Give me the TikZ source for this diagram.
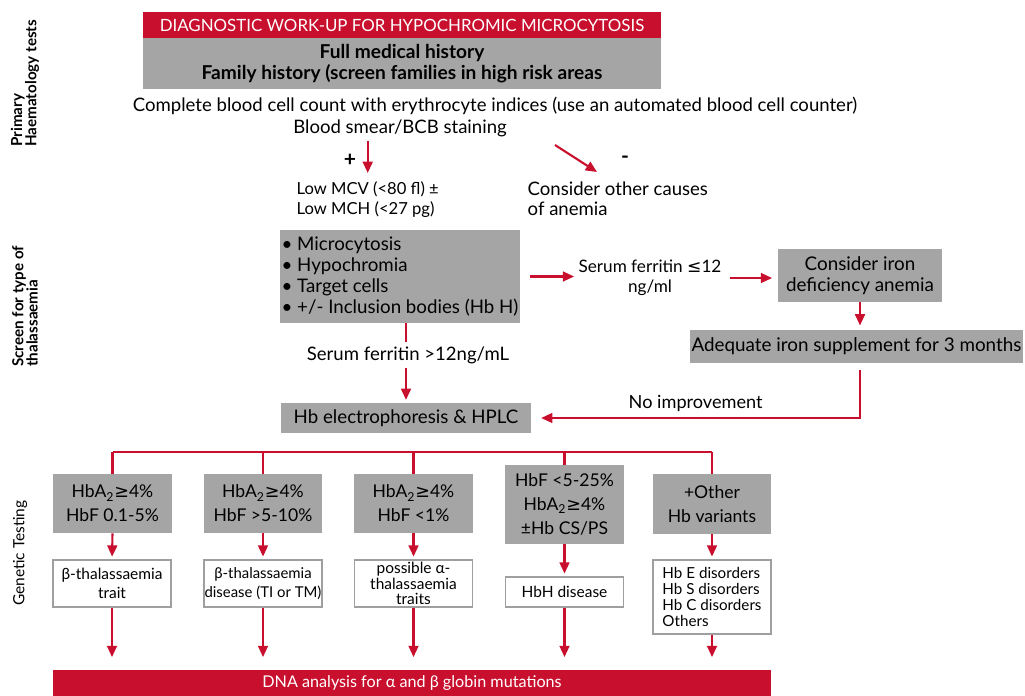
\documentclass[tikz,border=0pt]{standalone}
\usepackage{fontspec}
\setmainfont{Lato}
\newfontfamily\symfont{DejaVu Sans}
\usetikzlibrary{arrows.meta,calc}
\definecolor{dred}{RGB}{200,16,46}
\definecolor{boxgray}{RGB}{165,165,165}
\begin{document}
\begin{tikzpicture}[x=0.025cm,y=-0.025cm,
  ln/.style={draw=dred,line width=1.5pt},
  arr/.style={ln,-{Triangle[length=8pt,width=7pt]}},
  gbox/.style={fill=boxgray,inner sep=0pt,align=center},
  wbox/.style={draw=gray!75,line width=0.8pt,fill=white,inner sep=0pt,align=center,font=\fontsize{11}{12}\selectfont},
  rowbox/.style={gbox,minimum width=2.95cm,minimum height=1.475cm,font=\fontsize{12.5}{17}\selectfont},
  txt/.style={align=center,inner sep=1pt,font=\fontsize{13.2}{14.5}\selectfont},
  side/.style={rotate=90,anchor=west,align=left,inner sep=0pt}]
\useasboundingbox(0,0)rectangle(1025,696);
% side labels
\node[side,font=\fontsize{10.8}{10}\selectfont\bfseries](s1)at(25,147){Primary\\Haematology tests};
\node[side,font=\fontsize{10.8}{10}\selectfont\bfseries](s2)at(25,367){Screen for type of\\thalassaemia};
\node[side,font=\fontsize{11}{12}\selectfont](s3)at(20,606){Genetic Testing};
% primary tests
\node[fill=dred,text=white,minimum width=12.95cm,minimum height=0.65cm,inner sep=0pt,font=\fontsize{12}{13}\selectfont](title)at(402,25){DIAGNOSTIC WORK-UP FOR HYPOCHROMIC MICROCYTOSIS};
\node[gbox,minimum width=12.95cm,minimum height=1.275cm,font=\fontsize{13.6}{14.5}\selectfont\bfseries](hist)at(402,63.5){Full medical history\\Family history (screen families in high risk areas};
\node[txt](cbc)at(495,106){Complete blood cell count with erythrocyte indices (use an automated blood cell counter)};
\node[txt](smear)at(400,128){Blood smear/BCB staining};
\node[txt,font=\fontsize{15}{15}\selectfont\bfseries](plus)at(350,160){+};
\node[txt,font=\fontsize{15}{15}\selectfont\bfseries](minus)at(625,160){-};
\node[txt,align=left,anchor=north west,font=\fontsize{11.8}{14}\selectfont](lowm)at(295,180){Low MCV (<80 fl) ±\\Low MCH (<27 pg)};
\node[txt,align=left,anchor=north west](other)at(526,180){Consider other causes\\of anemia};
\coordinate(mstart)at(555,145);
\coordinate(mend)at(597,172);
\draw[arr,shorten <=2pt,shorten >=5pt](smear.south -| lowm.north)--(lowm.north);
\draw[arr](mstart)--(mend);
% screen
\node[gbox,minimum width=6cm,minimum height=2.325cm,align=left,font=\fontsize{13.3}{15}\selectfont](bul)at(400,276.5){• Microcytosis\\• Hypochromia\\• Target cells\\• +/- Inclusion bodies (Hb H)};
\node[txt,font=\fontsize{12.2}{14.5}\selectfont](ferr)at(650,278){Serum ferritin {\symfont ≤}12\\ng/ml};
\node[gbox,minimum width=4.1cm,minimum height=1.325cm,font=\fontsize{13.4}{15}\selectfont](iron)at(860,275.5){Consider iron\\deficiency anemia};
\node[gbox,minimum width=8.325cm,minimum height=0.825cm,font=\fontsize{13.4}{15}\selectfont](supp)at(856.5,346.5){Adequate iron supplement for 3 months};
\node[txt](sfg)at(408,355){Serum ferritin >12ng/mL};
\node[gbox,minimum width=6.25cm,minimum height=0.75cm,font=\fontsize{13.3}{15}\selectfont](hplc)at(406,418){Hb electrophoresis \& HPLC};
\draw[arr,shorten <=7pt,shorten >=2pt](bul.east)--(bul.east -| ferr.west);
\draw[arr,shorten <=5pt,shorten >=4pt](ferr.east)--(ferr.east -| iron.west);
\draw[arr,shorten >=3pt](iron.south)--(iron.south |- supp.north);
\draw[arr,shorten <=5pt,shorten >=7pt](supp.south -| iron.south)|-(hplc.east)node[pos=0.75,above=3pt,txt,font=\fontsize{12.9}{14}\selectfont]{No improvement};
\draw[ln,shorten >=2pt](bul.south -| hplc.north)--(sfg.north -| hplc.north);
\draw[arr,shorten <=2pt,shorten >=2pt](sfg.south -| hplc.north)--(hplc.north);
% genetic testing
\coordinate(bus)at(0,452);
\node[rowbox](g1)at(112.5,503.5){HbA\textsubscript{2}{\symfont ≥}4\%\\HbF 0.1-5\%};
\node[rowbox](g2)at(263,503.5){HbA\textsubscript{2}{\symfont ≥}4\%\\HbF >5-10\%};
\node[rowbox](g3)at(413.5,503.5){HbA\textsubscript{2}{\symfont ≥}4\%\\HbF <1\%};
\node[rowbox,minimum height=1.975cm](g4)at(564.5,504.5){HbF <5-25\%\\HbA\textsubscript{2}{\symfont ≥}4\%\\±Hb CS/PS};
\node[rowbox](g5)at(712,504){+Other\\Hb variants};
\node[wbox,minimum width=2.95cm,minimum height=1.175cm](w1)at(112,583.5){β-thalassaemia\\[2pt]trait};
\node[wbox,minimum width=2.95cm,minimum height=1.175cm,font=\fontsize{10.6}{12}\selectfont](w2)at(263,583.5){β-thalassaemia\\[2pt]disease (TI or TM)};
\node[wbox,minimum width=2.95cm,minimum height=1.175cm,font=\fontsize{11}{11}\selectfont](w3)at(413.5,583.5){possible α-\\thalassaemia\\traits};
\node[wbox,minimum width=2.95cm,minimum height=0.75cm](w4)at(564.5,592){HbH disease};
\node[wbox,minimum width=2.95cm,minimum height=1.85cm,align=left,font=\fontsize{10.8}{11.4}\selectfont](w5)at(712,597){Hb E disorders\\Hb S disorders\\Hb C disorders\\Others};
\node[fill=dred,text=white,minimum width=17.95cm,minimum height=0.65cm,inner sep=0pt,font=\fontsize{11.5}{13}\selectfont](dna)at(412,683){DNA analysis for α and β globin mutations};
\draw[ln](g1.north |- bus)--(g5.north |- bus);
\foreach \i in {1,...,5}{\draw[ln](g\i.north |- bus)--(g\i.north);}
\foreach \i in {1,...,5}{\draw[arr,shorten >=2pt](g\i.south)--(w\i.north);}
\foreach \i in {1,...,5}{\draw[arr,shorten >=9pt](w\i.south)--(w\i.south |- dna.north);}
\end{tikzpicture}
\end{document}
